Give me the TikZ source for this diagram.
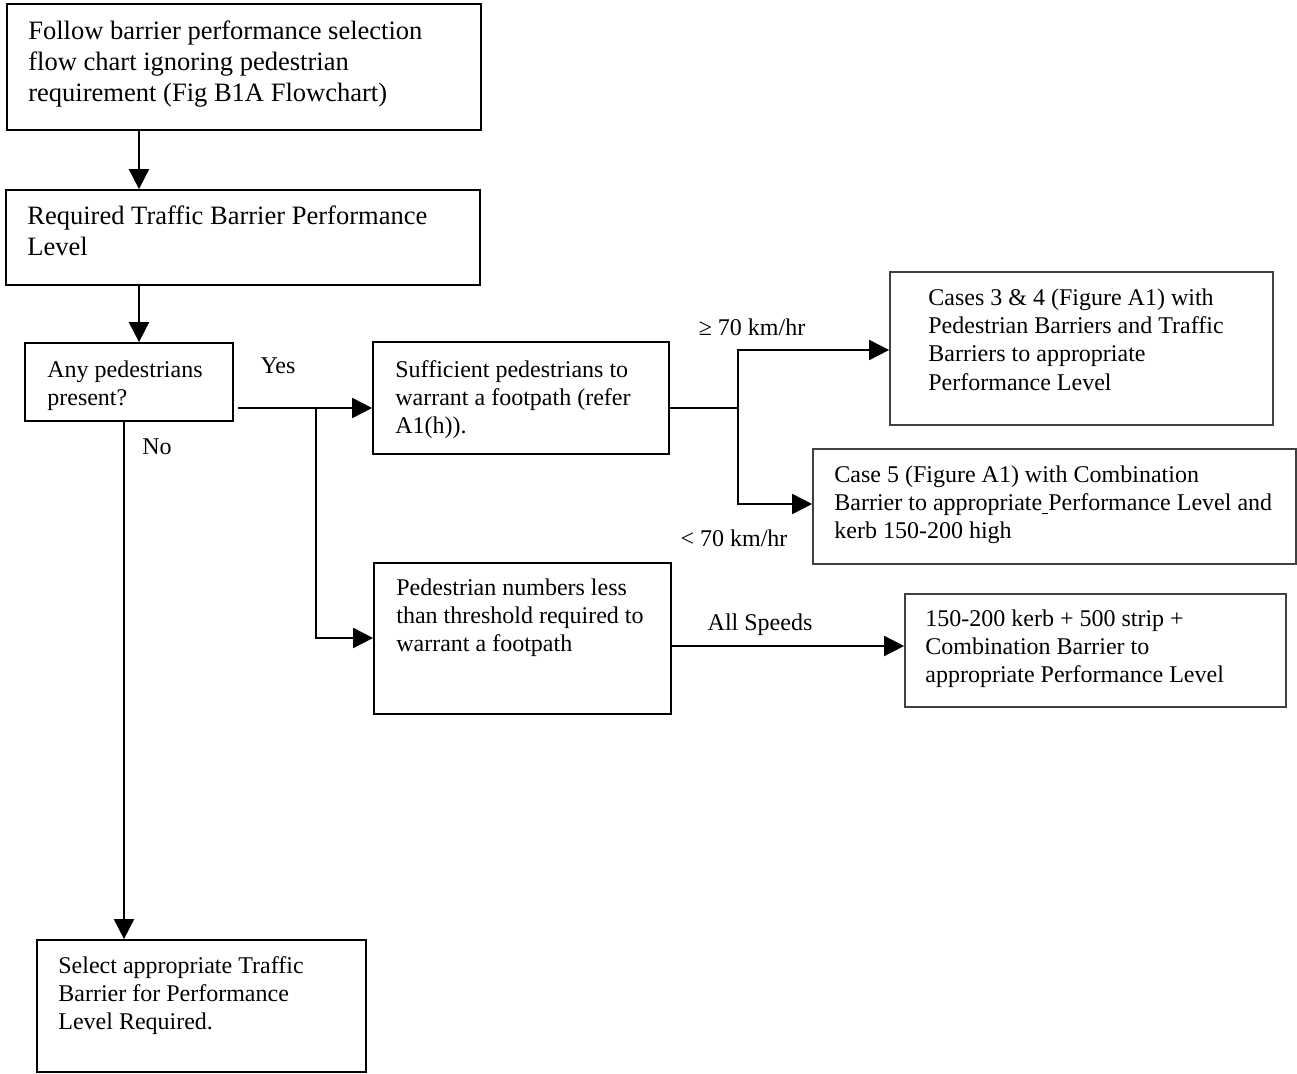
\documentclass[tikz,border=0pt]{standalone}
\usepackage{fontspec}
\setmainfont{Liberation Serif}
\usetikzlibrary{arrows.meta,fit}
\newcommand{\bigf}{\fontsize{15.1pt}{17.6pt}\selectfont}
\newcommand{\smf}{\fontsize{13.66pt}{16.2pt}\selectfont}
\newcommand{\ml}[1]{\begin{tabular}[t]{@{}l@{}}#1\end{tabular}}
\begin{document}
\begin{tikzpicture}[x=0.02cm,y=-0.02cm,
  box/.style={draw=black, line width=1pt, inner sep=0pt},
  gbox/.style={draw=black!75, line width=1pt, inner sep=0pt},
  bigtxt/.style={anchor=base west, inner sep=0pt, font=\bigf},
  txt/.style={anchor=base west, inner sep=0pt, font=\smf},
  lbl/.style={anchor=base, inner sep=0pt, font=\smf},
  conn/.style={line width=1.1pt, draw=black},
  arr/.style={conn, -{Triangle[length=0.4cm,width=0.4cm]}}]
\useasboundingbox (0,0) rectangle (1297,1074);
\fill[white] (0,0) rectangle (1297,1074);

% box corners
\coordinate (a1) at (7,4);      \coordinate (a2) at (481,130);
\coordinate (b1) at (6,190);    \coordinate (b2) at (480,285);
\coordinate (c1) at (25,343);   \coordinate (c2) at (233,421);
\coordinate (d1) at (373,342);  \coordinate (d2) at (669,454);
\coordinate (e1) at (374,563);  \coordinate (e2) at (671,714);
\coordinate (g1) at (890,272);  \coordinate (g2) at (1273,425);
\coordinate (k1) at (813,449);  \coordinate (k2) at (1296,564);
\coordinate (i1) at (905,594);  \coordinate (i2) at (1286,707);
\coordinate (f1) at (37,940);   \coordinate (f2) at (366,1072);

% boxes
\node[box, fit=(a1)(a2)] (A) {};
\node[box, fit=(b1)(b2)] (B) {};
\node[box, fit=(c1)(c2)] (C) {};
\node[box, fit=(d1)(d2)] (D) {};
\node[box, fit=(e1)(e2)] (E) {};
\node[gbox, fit=(g1)(g2)] (G) {};
\node[gbox, fit=(k1)(k2)] (H) {};
\node[gbox, fit=(i1)(i2)] (I) {};
\node[box, fit=(f1)(f2)] (F) {};

% texts
\node[bigtxt] (At) at (28,40) {\ml{Follow barrier performance selection\\flow chart ignoring pedestrian\\requirement (Fig B1A Flowchart)}};
\node[bigtxt] (Bt) at (27,225) {\ml{Required Traffic Barrier Performance\\Level}};
\node[txt] (Ct) at (47,377) {\ml{Any pedestrians\\present?}};
\node[txt] (Dt) at (395,377) {\ml{Sufficient pedestrians to\\warrant a footpath (refer\\A1(h)).}};
\node[txt] (Et) at (396,595) {\ml{Pedestrian numbers less\\than threshold required to\\warrant a footpath}};
\node[txt] (Gt) at (928,305) {\ml{Cases 3 \& 4 (Figure A1) with\\Pedestrian Barriers and Traffic\\Barriers to appropriate\\Performance Level}};
\node[txt] (Ht) at (834,482) {\ml{Case 5 (Figure A1) with Combination\\Barrier to appropriate\underline{\ }Performance Level and\\kerb 150-200 high}};
\node[txt] (It) at (925,626) {\ml{150-200 kerb + 500 strip +\\Combination Barrier to\\appropriate Performance Level}};
\node[txt] (Ft) at (58,973) {\ml{Select appropriate Traffic\\Barrier for Performance\\Level Required.}};

% labels
\node[lbl] (yes) at (278,373) {Yes};
\node[lbl] (no) at (157,454) {No};
\node[lbl] (ge70) at (752,336) {≥ 70 km/hr};
\node[lbl] (lt70) at (734,546) {< 70 km/hr};
\node[lbl] (alls) at (760,630) {All Speeds};

% helper coordinates
\coordinate (v1) at (139,0);
\coordinate (v2) at (124,0);
\coordinate (h1) at (0,408);
\coordinate (br1) at (316,408);
\coordinate (br2) at (738,408);
\coordinate (hG) at (0,350);
\coordinate (hH) at (0,504);
\coordinate (hE) at (0,638);
\coordinate (hI) at (0,646);
\coordinate (cs) at (238,408);

% connectors
\draw[arr] (A.south -| v1) -- (B.north -| v1);
\draw[arr] (B.south -| v1) -- (C.north -| v1);
\draw[arr] (cs) -- (D.west |- h1);
\draw[arr] (br1) |- (E.west |- hE);
\draw[arr] (C.south -| v2) -- (F.north -| v2);
\draw[conn] (D.east |- h1) -- (br2);
\draw[arr] (br2) |- (G.west |- hG);
\draw[arr] (br2) |- (H.west |- hH);
\draw[arr] (E.east |- hI) -- (I.west |- hI);
\end{tikzpicture}
\end{document}
